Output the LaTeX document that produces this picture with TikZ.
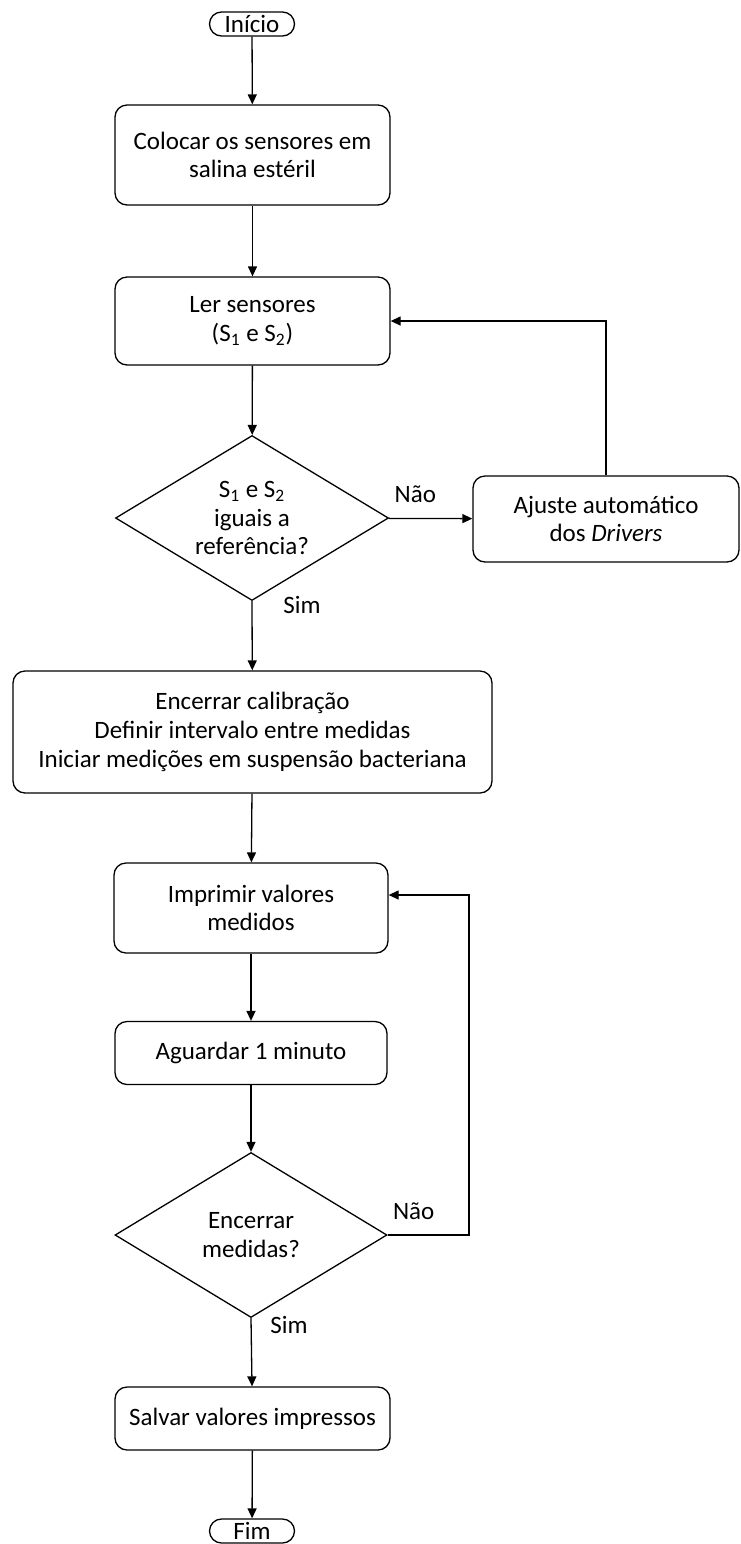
\documentclass[tikz,border=0pt]{standalone}
\usepackage{fontspec}
\setmainfont{Carlito}
\usetikzlibrary{shapes.geometric,arrows.meta}
\begin{document}
\begin{tikzpicture}[x=0.5pt,y=-0.5pt,line width=0.65pt,
    >={Triangle[length=5pt,width=4.5pt]},
    font=\fontsize{12.5}{14.3}\selectfont,
    box/.style={draw,rounded corners=6pt,align=center,inner sep=2pt},
    term/.style={draw,rounded corners=6pt,minimum width=42.5pt,minimum height=12pt,inner sep=0pt},
    decision/.style={draw,diamond,aspect=1.65,align=center,inner sep=0pt}] % flowchart
  \useasboundingbox (0,0) rectangle (740,1544);
  \node[term] (inicio) at (252,24) {Início};
  \node[box,minimum width=137.5pt,minimum height=50pt] (colocar) at (252.5,155) {Colocar os sensores em\\salina estéril};
  \node[box,minimum width=137.5pt,minimum height=44pt] (ler) at (252.5,321) {Ler sensores\\(S\textsubscript{1} e S\textsubscript{2})};
  \node[decision,minimum width=136.5pt,minimum height=82.5pt] (iguais) at (252,518) {S\textsubscript{1} e S\textsubscript{2}\\iguais a\\referência?};
  \node[box,minimum width=133pt,minimum height=43pt] (ajuste) at (606,519) {Ajuste automático\\dos \textit{Drivers}};
  \node[box,minimum width=239.5pt,minimum height=61pt] (calib) at (252.5,732) {Encerrar calibração\\Definir intervalo entre medidas\\Iniciar medições em suspensão bacteriana};
  \node[box,minimum width=137pt,minimum height=45pt] (imprimir) at (251,908) {Imprimir valores\\medidos};
  \node[box,minimum width=136pt,minimum height=31.5pt] (aguardar) at (251,1053) {Aguardar 1 minuto};
  \node[decision,minimum width=136pt,minimum height=82.5pt] (encerrar) at (251,1235) {Encerrar\\medidas?};
  \node[box,minimum width=137.5pt,minimum height=31.5pt] (salvar) at (252.5,1418.5) {Salvar valores impressos};
  \node[term] (fim) at (252,1531) {Fim};
  \coordinate (volta) at (469,895);

  \draw[->] (inicio) -- (colocar);
  \draw[->] (colocar) -- (ler);
  \draw[->] (ler) -- (iguais);
  \draw[->] (iguais) -- node[above,pos=0.32,yshift=4pt] {Não} (ajuste);
  \draw[->] (ajuste.north) |- (ler.east);
  \draw[->] (iguais.south) -- node[right,pos=0.05,xshift=12pt] {Sim} (calib);
  \draw[->] (calib) -- (imprimir);
  \draw[->] (imprimir) -- (aguardar);
  \draw[->] (aguardar) -- (encerrar);
  \draw[->] (encerrar.east) -| node[above,pos=0.16,yshift=4pt] {Não} (volta) -- (imprimir.east |- volta);
  \draw[->] (encerrar.south) -- node[right,pos=0.1,xshift=6pt] {Sim} (salvar);
  \draw[->] (salvar) -- (fim);
\end{tikzpicture}
\end{document}
